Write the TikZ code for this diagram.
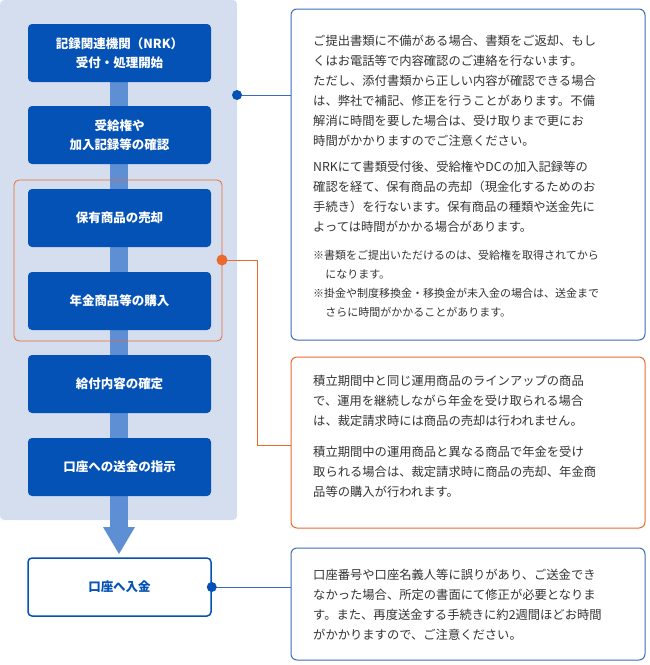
\documentclass[tikz,border=0pt]{standalone}
\usepackage{fontspec}
\setmainfont{Noto Sans CJK JP}
\definecolor{dblue}{HTML}{0452B5}
\definecolor{panel}{HTML}{D5DEEF}
\definecolor{bar}{HTML}{5E8ED3}
\definecolor{orng}{HTML}{E96A2C}
\definecolor{bline}{HTML}{3A6CB8}
\definecolor{txt}{HTML}{333333}
\tikzset{
 stepbox/.style={fill=dblue,rounded corners=4pt,minimum width=183pt,minimum height=58pt,text=white,font=\fontsize{12.5}{19}\selectfont\bfseries,align=center,inner sep=0pt},
 infobox/.style={draw=bline,line width=1pt,rounded corners=6pt},
 para/.style={anchor=north west,align=left,inner sep=0pt,text=txt,font=\fontsize{12.3}{20}\selectfont},
 note/.style={anchor=north west,align=left,inner sep=0pt,text=txt,font=\fontsize{11}{19}\selectfont},
 dotb/.style={circle,fill=dblue,inner sep=0pt,minimum size=10pt},
 doto/.style={circle,fill=orng,inner sep=0pt,minimum size=11pt},
}
\begin{document}
\begin{tikzpicture}[x=1pt,y=-1pt]
\useasboundingbox (0,0) rectangle (650,665);
\fill[panel,rounded corners=4pt] (0,0) rectangle (237,520);
\fill[bar] (110,60) rectangle (128,528);
\fill[bar] (103,527) -- (135,527) -- (119,554) -- cycle;
\node[stepbox] (s1) at (119.5,53) {記録関連機関（NRK）\\受付・処理開始};
\node[stepbox] (s2) at (119.5,135) {受給権や\\加入記録等の確認};
\node[stepbox] (s3) at (119.5,218) {保有商品の売却};
\node[stepbox] (s4) at (119.5,301) {年金商品等の購入};
\node[stepbox] (s5) at (119.5,384) {給付内容の確定};
\node[stepbox] (s6) at (119.5,467) {口座への送金の指示};
\node[stepbox,fill=white,draw=dblue,line width=1.5pt,text=dblue] (s7) at (119.5,587) {口座へ入金};
\draw[orng,line width=0.8pt,rounded corners=5pt] (14,180) rectangle (222,341);
\coordinate (og) at (222,260);
% info boxes
\draw[infobox] (291,9) rectangle (645,340);
\draw[infobox,draw=orng] (291,357) rectangle (645,528);
\draw[infobox] (291,548) rectangle (645,660);
\node[para] (p1) at (313,35) {ご提出書類に不備がある場合、書類をご返却、もし\\くはお電話等で内容確認のご連絡を行ないます。\\ただし、添付書類から正しい内容が確認できる場合\\は、弊社で補記、修正を行うことがあります。不備\\解消に時間を要した場合は、受け取りまで更にお\\時間がかかりますのでご注意ください。};
\node[para] (p2) at (313,161) {NRKにて書類受付後、受給権やDCの加入記録等の\\確認を経て、保有商品の売却（現金化するためのお\\手続き）を行ないます。保有商品の種類や送金先に\\よっては時間がかかる場合があります。};
\node[note] (n1) at (313,250) {※書類をご提出いただけるのは、受給権を取得されてから\\\hspace*{1.1em}になります。\\※掛金や制度移換金・移換金が未入金の場合は、送金まで\\\hspace*{1.1em}さらに時間がかかることがあります。};
\node[para] (p3) at (313,375) {積立期間中と同じ運用商品のラインアップの商品\\で、運用を継続しながら年金を受け取られる場合\\は、裁定請求時には商品の売却は行われません。};
\node[para] (p4) at (313,446) {積立期間中の運用商品と異なる商品で年金を受け\\取られる場合は、裁定請求時に商品の売却、年金商\\品等の購入が行われます。};
\node[para] (p5) at (313,569) {口座番号や口座名義人等に誤りがあり、ご送金でき\\なかった場合、所定の書面にて修正が必要となりま\\す。また、再度送金する手続きに約2週間ほどお時間\\がかかりますので、ご注意ください。};
% connectors
\coordinate (c1) at (237,95);
\coordinate (c1e) at (291,95);
\draw[bline,line width=0.8pt] (c1) -- (c1e);
\node[dotb] at (c1) {};
\coordinate (c2e) at (291,445);
\draw[orng,line width=0.8pt] (og) -- (257,260) -- (257,445) -- (c2e);
\node[doto] at (og) {};
\coordinate (c3) at (s7.east);
\coordinate (c3e) at (291,587);
\draw[bline,line width=0.8pt] (c3) -- (c3e);
\node[dotb] at (c3) {};
\end{tikzpicture}
\end{document}
